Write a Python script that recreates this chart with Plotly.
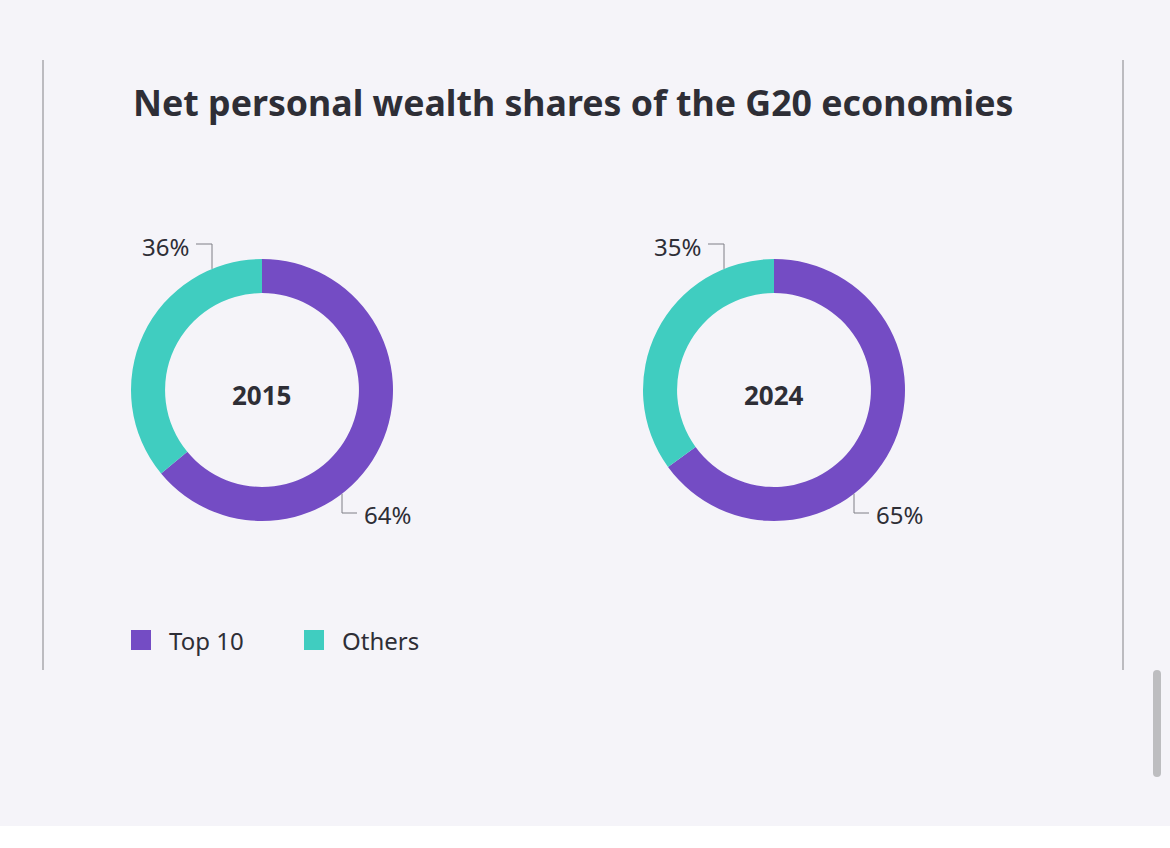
import plotly.graph_objects as go

# ---- data ----
years = ["2015", "2024"]
categories = ["Top 10", "Others"]
shares_2015 = [64, 36]
shares_2024 = [65, 35]
series = [shares_2015, shares_2024]
colors = ["#744cc4", "#40cdc0"]

W, H = 1170, 848
BG = "#f5f4f9"
TXT = "#2e2e36"

def px(x):
    return x / W

def py(y):
    return 1 - y / H

fig = go.Figure()

centers_x = [262, 774]
cy = 390
R = 131

for cx, yr, vals in zip(centers_x, years, series):
    fig.add_trace(go.Pie(
        labels=categories, values=vals, hole=0.74, sort=False,
        direction="clockwise", rotation=0,
        marker=dict(colors=colors, line=dict(width=0)),
        textinfo="none", hoverinfo="label+percent", showlegend=False,
        domain=dict(x=[px(cx - R), px(cx + R)], y=[py(cy + R), py(cy - R)]),
    ))
    # center year label
    fig.add_annotation(x=px(cx), y=py(395), xref="paper", yref="paper",
                       text=f"<b>{yr}</b>", showarrow=False,
                       xanchor="center", yanchor="middle",
                       font=dict(family="Noto Sans", size=26, color=TXT))
    # top label (Others) with leader line
    lx = cx - 50
    ring_y = cy - (R * R - 50 * 50) ** 0.5
    fig.add_shape(type="path", xref="paper", yref="paper",
                  path=f"M {px(lx-16)},{py(244)} L {px(lx)},{py(244)} L {px(lx)},{py(ring_y)}",
                  line=dict(color="#7e7e86", width=1))
    fig.add_annotation(x=px(lx - 21), y=py(247), xref="paper", yref="paper",
                       text=f"{vals[1]}%", showarrow=False,
                       xanchor="right", yanchor="middle",
                       font=dict(family="Noto Sans", size=24, color=TXT))
    # bottom label (Top 10) with leader line
    bx = cx + 80
    ring_y2 = cy + (R * R - 80 * 80) ** 0.5
    fig.add_shape(type="path", xref="paper", yref="paper",
                  path=f"M {px(bx)},{py(ring_y2)} L {px(bx)},{py(513)} L {px(bx+15)},{py(513)}",
                  line=dict(color="#7e7e86", width=1))
    fig.add_annotation(x=px(bx + 20), y=py(514), xref="paper", yref="paper",
                       text=f"{vals[0]}%", showarrow=False,
                       xanchor="left", yanchor="middle",
                       font=dict(family="Noto Sans", size=24, color=TXT))

# custom legend
leg_x = [131, 304]
for lx0, cat, col in zip(leg_x, categories, colors):
    fig.add_shape(type="rect", xref="paper", yref="paper",
                  x0=px(lx0), x1=px(lx0 + 20), y0=py(650), y1=py(630),
                  fillcolor=col, line=dict(width=0))
    fig.add_annotation(x=px(lx0 + 36), y=py(640), xref="paper", yref="paper",
                       text=cat, showarrow=False,
                       xanchor="left", yanchor="middle",
                       font=dict(family="Noto Sans", size=24, color=TXT))

# frame lines
for x in [43, 1123]:
    fig.add_shape(type="line", xref="paper", yref="paper",
                  x0=px(x), x1=px(x), y0=py(60), y1=py(670),
                  line=dict(color="#a8a8ac", width=1.5))
# scrollbar (rounded)
fig.add_shape(type="path", xref="paper", yref="paper",
              path=(f"M {px(1153)},{py(674)} Q {px(1153)},{py(670)} {px(1157)},{py(670)} "
                    f"Q {px(1161)},{py(670)} {px(1161)},{py(674)} L {px(1161)},{py(773)} "
                    f"Q {px(1161)},{py(777)} {px(1157)},{py(777)} "
                    f"Q {px(1153)},{py(777)} {px(1153)},{py(773)} Z"),
              fillcolor="#bdbdc0", line=dict(width=0))
# bottom white strip
fig.add_shape(type="rect", xref="paper", yref="paper",
              x0=0, x1=1, y0=0, y1=py(826),
              fillcolor="#ffffff", line=dict(width=0), layer="below")

fig.update_layout(
    width=W, height=H, margin=dict(l=0, r=0, t=0, b=0),
    paper_bgcolor=BG, plot_bgcolor=BG,
    title=dict(text="<b>Net personal wealth shares of the G20 economies</b>",
               x=px(133), xanchor="left", y=py(104), yanchor="middle",
               font=dict(family="Noto Sans", size=35.7, color=TXT)),
)

fig.write_html("out.html")
